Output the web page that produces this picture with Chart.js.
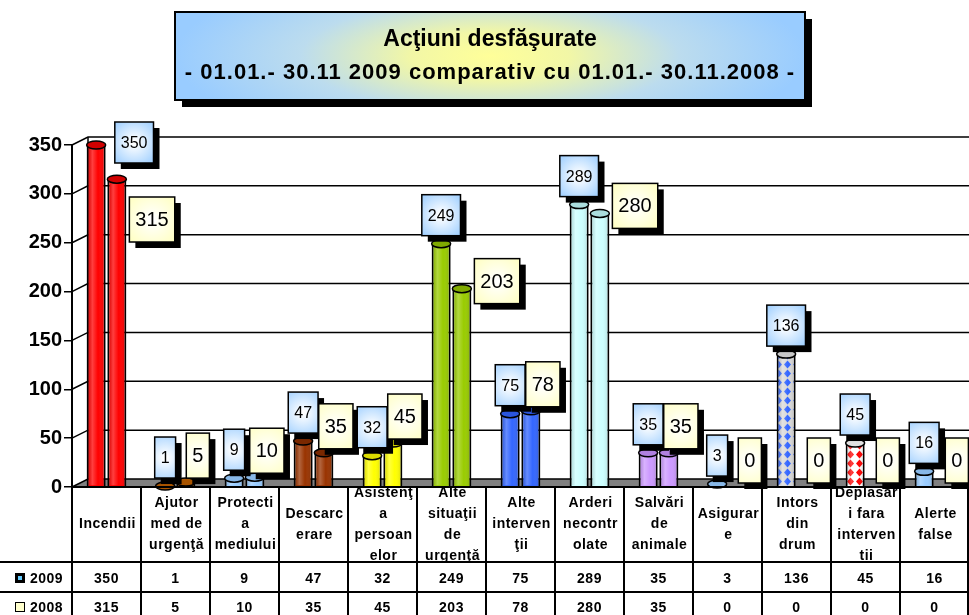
<!DOCTYPE html>
<html>
<head>
<meta charset="utf-8">
<script src="https://cdn.jsdelivr.net/npm/chart.js@4.4.1/dist/chart.umd.min.js"></script>
<style>
  html, body { margin: 0; padding: 0; background: #fff; overflow: hidden; }
  canvas { display: block; }
</style>
</head>
<body>
<canvas id="actiuni" width="969" height="615"></canvas>
<script>
const categories = ["Incendii", "Ajutor med de urgenţă", "Protectia mediului", "Descarcerare",
    "Asistenţa persoanelor", "Alte situaţii de urgenţă", "Alte intervenţii", "Arderi necontrolate",
    "Salvări de animale", "Asigurare", "Intors din drum", "Deplasari fara interventii", "Alerte false"];
// how the category names are broken in the table cells
const categoryLines = [
    ["Incendii"],
    ["Ajutor", "med de", "urgenţă"],
    ["Protecti", "a", "mediului"],
    ["Descarc", "erare"],
    ["Asistenţ", "a", "persoan", "elor"],
    ["Alte", "situaţii", "de", "urgenţă"],
    ["Alte", "interven", "ţii"],
    ["Arderi", "necontr", "olate"],
    ["Salvări", "de", "animale"],
    ["Asigurar", "e"],
    ["Intors", "din", "drum"],
    ["Deplasar", "i fara", "interven", "tii"],
    ["Alerte", "false"],
];
const values2009 = [350, 1, 9, 47, 32, 249, 75, 289, 35, 3, 136, 45, 16];
const values2008 = [315, 5, 10, 35, 45, 203, 78, 280, 35, 0, 0, 0, 0];
const seriesNames = ["2009", "2008"];
const yMin = 0, yMax = 350, yStep = 50;
const titleLines = ["Acţiuni desfăşurate", "- 01.01.- 30.11 2009 comparativ cu 01.01.- 30.11.2008 -"];

const FONT = '"Liberation Sans", Arial, sans-serif';
const canvas = document.getElementById("actiuni");
const ctx0 = canvas.getContext("2d");

function diamonds(fg, bg) {
    const c = document.createElement("canvas");
    c.width = 9; c.height = 9;
    const g = c.getContext("2d");
    g.fillStyle = bg; g.fillRect(0, 0, 9, 9);
    g.fillStyle = fg;
    g.beginPath();
    g.moveTo(4.5, 0.5); g.lineTo(8, 4.5); g.lineTo(4.5, 8.5); g.lineTo(1, 4.5);
    g.closePath(); g.fill();
    return ctx0.createPattern(c, "repeat");
}

const barColors = ["#FF0000", "#CC6600", "#99CCFF", "#993300", "#FFFF00", "#99CC00", "#3366FF",
    "#CCFFFF", "#CC99FF", "#99CCFF", diamonds("#3366FF", "#D8D8D8"), diamonds("#FF0000", "#FFFFFF"), "#99CCFF"];
const capColors = ["#D00000", "#A85400", "#88B8E8", "#7A2800", "#DCDC00", "#80AA00", "#2A55DD",
    "#AADDDD", "#B080E0", "#88B8E8", "#C8C8C8", "#E0E0E0", "#88B8E8"];

const dx = 16, dy = 8;

const chart3d = {
    id: "chart3d",
    beforeDatasetsDraw(chart) {
        const { ctx, chartArea: a, scales: { y } } = chart;
        ctx.save();
        ctx.fillStyle = "#808080";
        ctx.beginPath();
        ctx.moveTo(a.left, a.bottom);
        ctx.lineTo(a.left + dx, a.bottom - dy);
        ctx.lineTo(a.right, a.bottom - dy);
        ctx.lineTo(a.right, a.bottom);
        ctx.closePath();
        ctx.fill();
        ctx.strokeStyle = "#000";
        ctx.lineWidth = 1.5;
        for (let v = yMin; v <= yMax; v += yStep) {
            const py = y.getPixelForValue(v);
            ctx.beginPath();
            ctx.moveTo(a.left, py);
            ctx.lineTo(a.left + dx, py - dy);
            ctx.lineTo(a.right, py - dy);
            ctx.stroke();
        }
        ctx.beginPath();
        ctx.moveTo(a.left + dx, y.getPixelForValue(yMax) - dy);
        ctx.lineTo(a.left + dx, a.bottom - dy);
        ctx.stroke();
        ctx.restore();
    },
    afterDatasetsDraw(chart) {
        const ctx = chart.ctx;
        ctx.save();
        // cylinder shading + caps
        chart.data.datasets.forEach((ds, di) => {
            chart.getDatasetMeta(di).data.forEach((el, i) => {
                if (!ds.data[i]) return;
                const p = el.getProps(["x", "y", "width", "base"], true);
                const l = p.x - p.width / 2, r = p.x + p.width / 2;
                const g = ctx.createLinearGradient(l, 0, r, 0);
                g.addColorStop(0, "rgba(0,0,0,0.12)");
                g.addColorStop(0.3, "rgba(255,255,255,0.25)");
                g.addColorStop(0.6, "rgba(255,255,255,0)");
                g.addColorStop(1, "rgba(0,0,0,0.18)");
                ctx.fillStyle = g;
                ctx.fillRect(l + 2, p.y, p.width - 4, p.base - p.y - 1);
                ctx.beginPath();
                ctx.ellipse(p.x, p.y, p.width / 2, 4, 0, 0, Math.PI * 2);
                ctx.fillStyle = capColors[i];
                ctx.fill();
                ctx.lineWidth = 1.5;
                ctx.strokeStyle = "#000";
                ctx.stroke();
            });
        });
        // value boxes
        for (let i = 0; i < categories.length; i++) {
            let prev = null;
            chart.data.datasets.forEach((ds, di) => {
                const v = ds.data[i];
                const p = chart.getDatasetMeta(di).data[i].getProps(["x", "y", "width"], true);
                const size = di === 0 ? 16 : 20;
                ctx.font = size + "px " + FONT;
                const w = ctx.measureText(String(v)).width + 12;
                const h = di === 0 ? 41 : 45;
                let left, top;
                if (di === 0) {
                    top = Math.min(p.y - 8, 483) - h;
                    left = p.x - w / 2;
                    if (top < 122) { top = 122; left = p.x + 38 - w / 2; }
                } else if (v > 150) {
                    left = p.x + p.width / 2 + 3;
                    top = p.y - 30;
                    if (prev && left < prev.r && top < prev.b && top + h > prev.t) top = prev.b + 34;
                } else {
                    top = Math.min(p.y - 4, 483) - h;
                    left = p.x + 12 - w / 2;
                }
                ctx.fillStyle = "#000";
                ctx.fillRect(left + 6, top + 6, w, h);
                const cx = left + w / 2, cy = top + h / 2;
                const g = ctx.createRadialGradient(cx, cy, 2, cx, cy, Math.max(w, h) * 0.7);
                if (di === 0) { g.addColorStop(0, "#FFFFFF"); g.addColorStop(1, "#99CCFF"); }
                else { g.addColorStop(0, "#FFFFFF"); g.addColorStop(1, "#FFFFC0"); }
                ctx.fillStyle = g;
                ctx.fillRect(left, top, w, h);
                ctx.lineWidth = 1.5;
                ctx.strokeStyle = "#000";
                ctx.strokeRect(left, top, w, h);
                ctx.fillStyle = "#000";
                ctx.textAlign = "center";
                ctx.textBaseline = "middle";
                ctx.fillText(String(v), cx, cy + 1);
                prev = { l: left, r: left + w, t: top, b: top + h };
            });
        }
        ctx.restore();
    },
    afterDraw(chart) {
        const { ctx, chartArea: a, scales: { x } } = chart;
        const H = chart.height, W = chart.width;
        const half = (x.getPixelForValue(1) - x.getPixelForValue(0)) / 2;
        const row1 = a.bottom + 75, row2 = row1 + 30;
        ctx.save();
        ctx.strokeStyle = "#000";
        ctx.lineWidth = 2;
        ctx.beginPath();
        ctx.moveTo(a.left, a.bottom); ctx.lineTo(W, a.bottom);
        ctx.moveTo(0, row1); ctx.lineTo(W, row1);
        ctx.moveTo(0, row2); ctx.lineTo(W, row2);
        for (let i = 0; i <= categories.length; i++) {
            const px = Math.min(x.getPixelForValue(i) - half, W - 1);
            ctx.moveTo(px, a.bottom); ctx.lineTo(px, H);
        }
        ctx.stroke();
        ctx.fillStyle = "#000";
        ctx.textAlign = "center";
        ctx.textBaseline = "middle";
        ctx.font = "bold 14px " + FONT;
        ctx.letterSpacing = "0.5px";
        categoryLines.forEach((lines, i) => {
            const cx = x.getPixelForValue(i);
            ctx.save();
            ctx.beginPath();
            ctx.rect(cx - half, a.bottom + 1, half * 2, row1 - a.bottom - 2);
            ctx.clip();
            const mid = (a.bottom + row1) / 2;
            lines.forEach((t, k) => {
                ctx.fillText(t, cx + 1, mid + (k - (lines.length - 1) / 2) * 21);
            });
            ctx.restore();
            ctx.fillText(String(values2009[i]), cx, row1 + 17);
            ctx.fillText(String(values2008[i]), cx, row2 + 16);
        });
        // legend keys
        ctx.textAlign = "left";
        ctx.fillText(seriesNames[0], 30, row1 + 17);
        ctx.fillText(seriesNames[1], 30, row2 + 16);
        ctx.fillStyle = "#000";
        ctx.fillRect(15, row1 + 11, 10, 10);
        ctx.fillStyle = "#66CCFF";
        ctx.fillRect(18, row1 + 14, 4, 4);
        ctx.fillStyle = "#FFFFCC";
        ctx.fillRect(15, row2 + 10, 10, 10);
        ctx.lineWidth = 1;
        ctx.strokeRect(15.5, row2 + 10.5, 9, 9);

        // title box
        const tx = 175, ty = 12, tw = 630, th = 88;
        ctx.fillStyle = "#000";
        ctx.fillRect(tx + 7, ty + 7, tw, th);
        ctx.save();
        ctx.beginPath();
        ctx.rect(tx, ty, tw, th);
        ctx.clip();
        ctx.translate(tx + tw / 2, ty + th / 2);
        ctx.scale(1, 0.3);
        const g = ctx.createRadialGradient(0, 0, 0, 0, 0, tw / 2);
        g.addColorStop(0, "#FFFF99");
        g.addColorStop(0.25, "#F2F7A6");
        g.addColorStop(0.6, "#BCDCEE");
        g.addColorStop(1, "#99CCFF");
        ctx.fillStyle = g;
        ctx.fillRect(-tw / 2, -th * 2, tw, th * 4);
        ctx.restore();
        ctx.lineWidth = 2;
        ctx.strokeRect(tx, ty, tw, th);
        ctx.fillStyle = "#000";
        ctx.textAlign = "center";
        ctx.font = "bold 23px " + FONT;
        ctx.letterSpacing = "0px";
        ctx.fillText(titleLines[0], tx + tw / 2, 40);
        ctx.font = "bold 22px " + FONT;
        ctx.letterSpacing = "1px";
        ctx.fillText(titleLines[1], tx + tw / 2, 73);
        ctx.restore();
    }
};

new Chart(canvas, {
    type: "bar",
    data: {
        labels: categories,
        datasets: [
            { label: seriesNames[0], data: values2009, backgroundColor: barColors, borderColor: "#000", borderWidth: 2 },
            { label: seriesNames[1], data: values2008, backgroundColor: barColors, borderColor: "#000", borderWidth: 2 },
        ],
    },
    options: {
        responsive: false,
        animation: false,
        layout: { padding: { top: 145, bottom: 128, left: 0, right: 0 } },
        datasets: { bar: { categoryPercentage: 0.6, barPercentage: 0.92 } },
        scales: {
            x: { display: false },
            y: {
                min: yMin, max: yMax,
                afterFit: (s) => { s.width = 72; },
                ticks: { stepSize: yStep, color: "#000", padding: 2, font: { family: FONT, size: 20, weight: "bold" } },
                grid: { drawOnChartArea: false, drawTicks: true, tickLength: 8, color: "#000", lineWidth: 1.5 },
                border: { display: true, color: "#000", width: 2 },
            },
        },
        plugins: { legend: { display: false }, tooltip: { enabled: false } },
    },
    plugins: [chart3d],
});
</script>
</body>
</html>
